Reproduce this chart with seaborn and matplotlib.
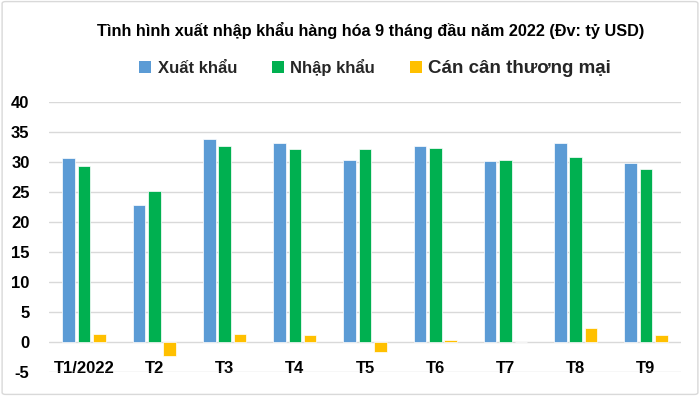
import matplotlib
matplotlib.use("Agg")
import matplotlib.pyplot as plt
from matplotlib.patches import Patch, FancyBboxPatch
import seaborn as sns
import pandas as pd

months = ["T1/2022", "T2", "T3", "T4", "T5", "T6", "T7", "T8", "T9"]
xuat_khau = [30.7, 22.8, 33.9, 33.2, 30.4, 32.6, 30.2, 33.2, 29.8]
nhap_khau = [29.4, 25.2, 32.6, 32.1, 32.2, 32.3, 30.3, 30.9, 28.8]
can_can = [1.4, -2.4, 1.4, 1.1, -1.7, 0.3, 0.0, 2.3, 1.1]
series = ["Xuất khẩu", "Nhập khẩu", "Cán cân thương mại"]
colors = ["#5B9BD5", "#00B050", "#FFC000"]
title = "Tình hình xuất nhập khẩu hàng hóa 9 tháng đầu năm 2022 (Đv: tỷ USD)"

rows = []
for vals, s in zip([xuat_khau, nhap_khau, can_can], series):
    for m, v in zip(months, vals):
        rows.append({"month": m, "series": s, "value": v})
df = pd.DataFrame(rows)

sns.set_theme(style="white")
plt.rcParams["font.family"] = ["Liberation Sans", "DejaVu Sans"]
plt.rcParams["axes.unicode_minus"] = False

fig = plt.figure(figsize=(7, 3.96), dpi=100)
ax = fig.add_axes([0.07, 0.0606, 0.903, 0.682])

sns.barplot(data=df, x="month", y="value", hue="series", order=months,
            hue_order=series, palette=colors, saturation=1, width=0.655, gap=0.18,
            edgecolor="white", linewidth=0.5, ax=ax, legend=False)

ax.set_ylim(-5, 40)
ax.set_yticks(range(-5, 41, 5))
ax.set_xlim(-0.5, len(months) - 0.5)
ax.yaxis.grid(True, color="#D9D9D9", linewidth=1)
ax.set_axisbelow(True)
for sp in ax.spines.values():
    sp.set_visible(False)
ax.spines["bottom"].set_position(("data", 0))
ax.set_xlabel("")
ax.set_ylabel("")
ax.tick_params(axis="x", length=0, pad=14, labelsize=12)
ax.tick_params(axis="y", length=0, pad=14, labelsize=12)
for lab in ax.get_xticklabels() + ax.get_yticklabels():
    lab.set_fontweight("bold")
    lab.set_color("#000000")

fig.text(0.53, 0.924, title, ha="center", va="center", fontsize=11.7,
         fontweight="bold", color="#000000")

handles = [Patch(facecolor=c, edgecolor="none") for c in colors]
leg = fig.legend(handles, series, loc="center", bbox_to_anchor=(0.536, 0.828),
                 ncol=3, frameon=False, fontsize=12, handlelength=0.7,
                 handleheight=0.7, handletextpad=0.4, columnspacing=2.1)
for t in leg.get_texts():
    t.set_fontweight("bold")
leg.get_texts()[2].set_fontsize(13.5)

border = FancyBboxPatch((0.003, 0.004), 0.994, 0.992, boxstyle="round,pad=0,rounding_size=0.005",
                        transform=fig.transFigure, facecolor="none",
                        edgecolor="#D9D9D9", linewidth=1)
fig.patches.append(border)

fig.savefig("out.png", dpi=100)
